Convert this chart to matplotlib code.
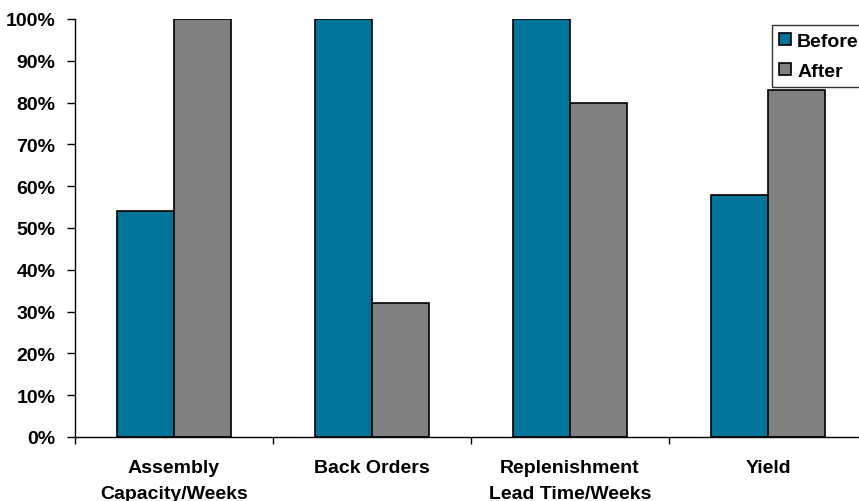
import numpy as np
import matplotlib
matplotlib.use('Agg')
import matplotlib.pyplot as plt
from matplotlib.ticker import FixedLocator, NullFormatter

plt.rcParams['font.family'] = ['Liberation Sans', 'DejaVu Sans']
plt.rcParams['font.weight'] = 'bold'

#--- data
categories = ['Assembly\nCapacity/Weeks', 'Back Orders',
              'Replenishment\nLead Time/Weeks', 'Yield']
before = [54, 100, 100, 58]
after = [100, 32, 80, 83]

fig = plt.figure(figsize=(8.59, 5.02), dpi=100)
ax = fig.add_axes([0.0873, 0.1275, 0.922, 0.8327])

x = np.arange(len(categories))
w = 0.29
ax.bar(x - w/2, before, w, color='#00759A', edgecolor='black', linewidth=1.2, label='Before')
ax.bar(x + w/2, after, w, color='#808080', edgecolor='black', linewidth=1.2, label='After')

ax.set_xlim(-0.5, len(categories) - 0.5)
ax.set_ylim(0, 100)
ax.set_yticks(np.arange(0, 101, 10))
ax.set_yticklabels(['%d%%' % v for v in range(0, 101, 10)], fontsize=14, fontweight='bold')

# category labels centred, ticks at the group boundaries
ax.set_xticks(x)
ax.set_xticklabels(categories, fontsize=14, fontweight='bold', linespacing=1.7)
ax.tick_params(axis='x', which='major', length=0, pad=16)
ax.xaxis.set_minor_locator(FixedLocator(np.arange(-0.5, len(categories), 1.0)))
ax.xaxis.set_minor_formatter(NullFormatter())
ax.tick_params(axis='x', which='minor', length=5, width=1)
ax.tick_params(axis='y', length=6, width=1, pad=8)

ax.spines['top'].set_visible(False)
ax.spines['right'].set_visible(False)
ax.spines['left'].set_linewidth(1)
ax.spines['bottom'].set_linewidth(1)

leg = ax.legend(loc='upper left', bbox_to_anchor=(0.880, 0.985),
                frameon=True, fancybox=False, handlelength=0.62, handleheight=0.62,
                handletextpad=0.3, borderpad=0.38, labelspacing=0.66,
                borderaxespad=0, prop={'weight': 'bold', 'size': 14})
leg.get_frame().set_edgecolor('black')
leg.get_frame().set_linewidth(1)

fig.savefig('out.png', dpi=100)
